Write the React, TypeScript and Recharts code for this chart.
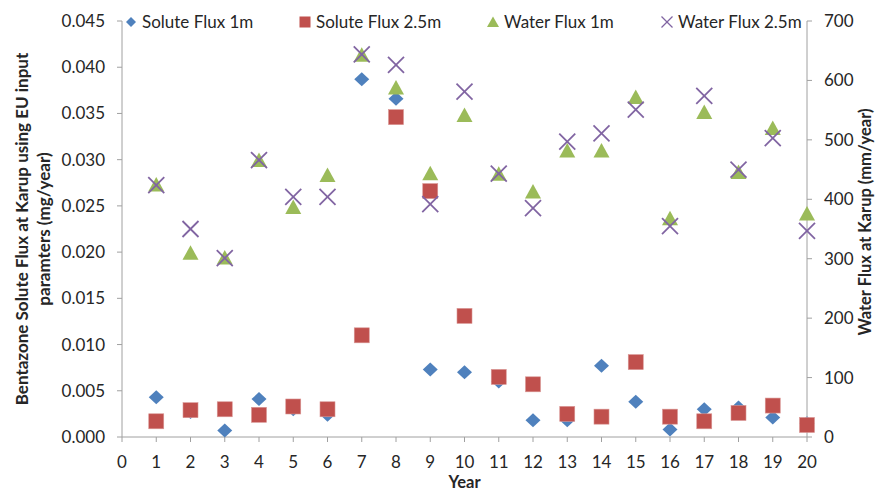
import React from 'react';
import { ScatterChart, Scatter, XAxis, YAxis } from 'recharts';

const years = [1, 2, 3, 4, 5, 6, 7, 8, 9, 10, 11, 12, 13, 14, 15, 16, 17, 18, 19, 20];
const soluteFlux1m = [0.0043, 0.0027, 0.0007, 0.0041, 0.003, 0.0024, 0.0387, 0.0366, 0.0073, 0.007, 0.006, 0.0018, 0.0018, 0.0077, 0.0038, 0.0008, 0.003, 0.0032, 0.0021, 0.0015];
const soluteFlux25m = [0.0017, 0.0029, 0.003, 0.0024, 0.0033, 0.003, 0.011, 0.0346, 0.0266, 0.0131, 0.0065, 0.0057, 0.0025, 0.0022, 0.0081, 0.0022, 0.0017, 0.0026, 0.0034, 0.0013];
const waterFlux1m = [425, 310, 302, 466, 387, 441, 643, 588, 444, 542, 443, 413, 482, 482, 572, 368, 547, 446, 520, 376];
const waterFlux25m = [424, 350, 301, 466, 404, 404, 644, 626, 392, 581, 443, 385, 497, 511, 551, 355, 574, 450, 503, 347];

const xTicks = [0, 1, 2, 3, 4, 5, 6, 7, 8, 9, 10, 11, 12, 13, 14, 15, 16, 17, 18, 19, 20];
const leftTicks = [0, 0.005, 0.01, 0.015, 0.02, 0.025, 0.03, 0.035, 0.04, 0.045];
const rightTicks = [0, 100, 200, 300, 400, 500, 600, 700];

const seriesNames = ['Solute Flux 1m', 'Solute Flux 2.5m', 'Water Flux 1m', 'Water Flux 2.5m'];

const BLUE = '#4F81BD';
const RED = '#C0504D';
const GREEN = '#9BBB59';
const PURPLE = '#8064A2';
const TEXT = '#262626';
const AXIS = '#A0A0A0';
const FONT = 'Lato, "Open Sans", sans-serif';

const toPoints = (vals: number[]) => years.map((x, i) => ({ x, y: vals[i] }));

const Diamond = (props: any) => {
  const { cx, cy } = props;
  const w = 7.5, h = 7;
  return <polygon points={`${cx},${cy - h} ${cx + w},${cy} ${cx},${cy + h} ${cx - w},${cy}`} fill={BLUE} />;
};
const Square = (props: any) => {
  const { cx, cy } = props;
  return <rect x={cx - 7.5} y={cy - 7.5} width={15} height={15} fill={RED} stroke="#D99694" strokeWidth={0.6} />;
};
const Triangle = (props: any) => {
  const { cx, cy } = props;
  return <polygon points={`${cx},${cy - 7.5} ${cx + 8},${cy + 7} ${cx - 8},${cy + 7}`} fill={GREEN} />;
};
const Cross = (props: any) => {
  const { cx, cy } = props;
  const s = 8;
  return (
    <g stroke={PURPLE} strokeWidth={1.8}>
      <line x1={cx - s} y1={cy - s} x2={cx + s} y2={cy + s} />
      <line x1={cx - s} y1={cy + s} x2={cx + s} y2={cy - s} />
    </g>
  );
};

const leftTitle = (props: any) => {
  const vb = props.viewBox || {};
  const cy = vb.y + vb.height / 2;
  return (
    <g fontFamily={FONT} fontWeight={700} fontSize={17} fill={TEXT}>
      <text x={28} y={cy} transform={`rotate(-90, 28, ${cy})`} textAnchor="middle">
        Bentazone Solute Flux at Karup using EU input
      </text>
      <text x={49.5} y={cy} transform={`rotate(-90, 49.5, ${cy})`} textAnchor="middle">
        paramters (mg/year)
      </text>
    </g>
  );
};

const rightTitle = (props: any) => {
  const vb = props.viewBox || {};
  const cy = vb.y + vb.height / 2 - 7;
  return (
    <text x={871} y={cy} transform={`rotate(-90, 871, ${cy})`} textAnchor="middle" fontFamily={FONT} fontWeight={700} fontSize={16.5} fill={TEXT}>
      Water Flux at Karup (mm/year)
    </text>
  );
};

const xTitle = (props: any) => {
  const vb = props.viewBox || {};
  return (
    <text x={vb.x + vb.width / 2} y={vb.y + 51} textAnchor="middle" fontFamily={FONT} fontWeight={700} fontSize={16.5} fill={TEXT}>
      Year
    </text>
  );
};

const legendMarkers = [
  (cx: number, cy: number) => <polygon points={`${cx},${cy - 5} ${cx + 5},${cy} ${cx},${cy + 5} ${cx - 5},${cy}`} fill={BLUE} />,
  (cx: number, cy: number) => <rect x={cx - 5.5} y={cy - 5.5} width={11} height={11} fill={RED} />,
  (cx: number, cy: number) => <polygon points={`${cx},${cy - 5.5} ${cx + 6},${cy + 5} ${cx - 6},${cy + 5}`} fill={GREEN} />,
  (cx: number, cy: number) => (
    <g stroke={PURPLE} strokeWidth={1.3}>
      <line x1={cx - 5.5} y1={cy - 5.5} x2={cx + 5.5} y2={cy + 5.5} />
      <line x1={cx - 5.5} y1={cy + 5.5} x2={cx + 5.5} y2={cy - 5.5} />
    </g>
  ),
];
const legendX = [131, 305, 493, 667];

const tickStyle = { fill: TEXT, fontSize: 17, fontFamily: FONT };

export default function App() {
  return (
    <div style={{ position: 'absolute', left: 0, top: 0, width: 876, height: 492, background: '#fff' }}>
      <ScatterChart width={876} height={492} margin={{ top: 21, right: 0, bottom: 0, left: 0 }}>
        <XAxis
          type="number"
          dataKey="x"
          domain={[0, 20]}
          ticks={xTicks}
          interval={0}
          height={55}
          stroke={AXIS}
          tickSize={5}
          tickMargin={14}
          tick={tickStyle}
          tickLine={{ stroke: AXIS }}
          label={xTitle}
        />
        <YAxis
          yAxisId="left"
          type="number"
          dataKey="y"
          domain={[0, 0.045]}
          ticks={leftTicks}
          interval={0}
          width={122}
          stroke={AXIS}
          tickSize={5}
          tickMargin={12}
          tick={tickStyle}
          tickLine={{ stroke: AXIS }}
          tickFormatter={(v: number) => v.toFixed(3)}
          label={leftTitle}
        />
        <YAxis
          yAxisId="right"
          orientation="right"
          type="number"
          dataKey="y"
          domain={[0, 700]}
          ticks={rightTicks}
          interval={0}
          width={69}
          stroke={AXIS}
          tickSize={5}
          tickMargin={12}
          tick={tickStyle}
          tickLine={{ stroke: AXIS }}
          label={rightTitle}
        />
        <Scatter name={seriesNames[0]} yAxisId="left" data={toPoints(soluteFlux1m)} shape={Diamond} isAnimationActive={false} />
        <Scatter name={seriesNames[1]} yAxisId="left" data={toPoints(soluteFlux25m)} shape={Square} isAnimationActive={false} />
        <Scatter name={seriesNames[2]} yAxisId="right" data={toPoints(waterFlux1m)} shape={Triangle} isAnimationActive={false} />
        <Scatter name={seriesNames[3]} yAxisId="right" data={toPoints(waterFlux25m)} shape={Cross} isAnimationActive={false} />
      </ScatterChart>
      <svg width={876} height={40} style={{ position: 'absolute', left: 0, top: 0, pointerEvents: 'none' }}>
        {seriesNames.map((name, i) => (
          <g key={name}>
            {legendMarkers[i](legendX[i], 22)}
            <text x={legendX[i] + 11} y={28} fontFamily={FONT} fontSize={17} fill={TEXT}>
              {name}
            </text>
          </g>
        ))}
      </svg>
    </div>
  );
}
